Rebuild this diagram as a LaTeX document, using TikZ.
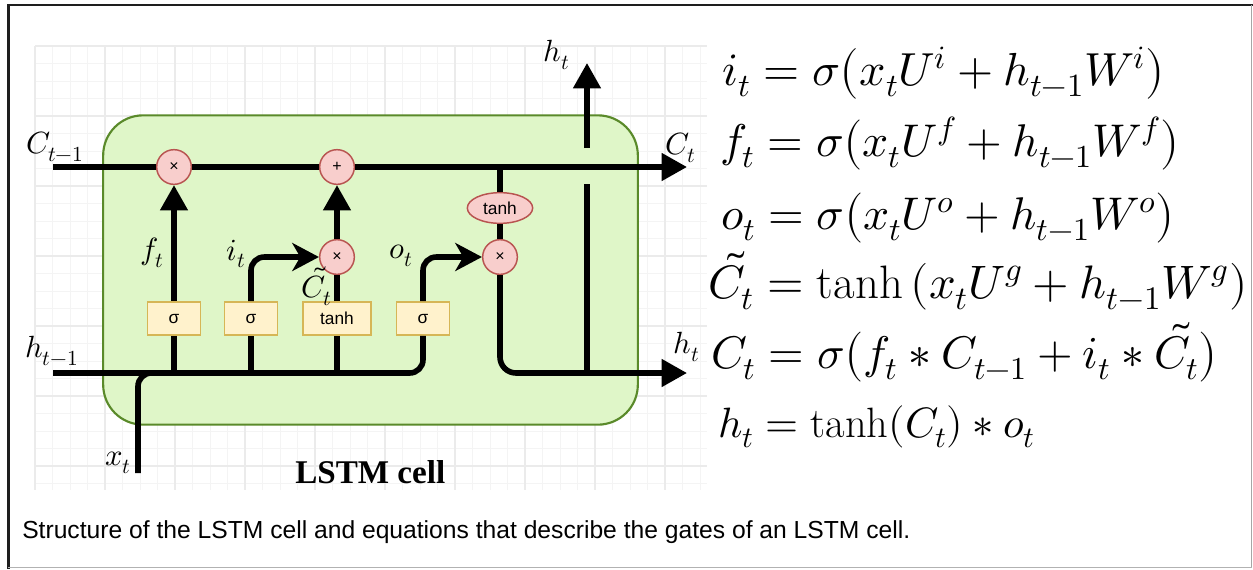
\documentclass[tikz,border=0pt]{standalone}
\usepackage{fontspec}
\usepackage{unicode-math}
\setmathfont{Latin Modern Math}
\newfontfamily\sansf{Liberation Sans}
\newfontfamily\serift{Liberation Serif}
\usetikzlibrary{arrows.meta,shapes.geometric}
\definecolor{cellfill}{HTML}{DFF6C8}
\definecolor{cellline}{HTML}{5A8A2A}
\definecolor{opfill}{HTML}{F8CECC}
\definecolor{opline}{HTML}{B85450}
\definecolor{gatefill}{HTML}{FFF2CC}
\definecolor{gateline}{HTML}{D6B656}
\definecolor{framedark}{HTML}{1E1E1E}
\definecolor{gridminor}{HTML}{F4F4F4}
\definecolor{gridmajor}{HTML}{EBEBEB}
\tikzset{
  wire/.style={line width=4.2pt, black},
  tri/.style={-{Triangle[width=20pt,length=19pt]}},
  stl/.style={-{Stealth[width=21pt,length=20pt,inset=6pt]}},
  opnode/.style={circle, draw=opline, fill=opfill, line width=1.1pt, minimum size=26pt, inner sep=0pt, font=\sansf\fontsize{12}{12}\selectfont},
  gatebox/.style={rectangle, draw=gateline, fill=gatefill, line width=1.1pt, minimum width=40pt, minimum height=25pt, inner sep=0pt, font=\sansf\fontsize{13}{14}\selectfont},
  lbl/.style={inner sep=0pt, font=\fontsize{23}{27}\selectfont},
  eqn/.style={inner sep=0pt, anchor=base west, font=\fontsize{34}{40}\selectfont},
  gridl/.style={draw=gridminor, line width=0.7pt},
  gridm/.style={draw=gridmajor, line width=0.8pt}
}
\begin{document}
\begin{tikzpicture}[x=0.75pt,y=-0.75pt]
\useasboundingbox (0,0) rectangle (1253,569);
\fill[white] (0,0) rectangle (1253,569);
% frame
\draw[framedark, line width=2pt] (7,5) -- (1253,5);
\draw[framedark, line width=2.2pt] (8.5,4) -- (8.5,569);
\draw[gray!70, line width=0.9pt] (1251.5,5) -- (1251.5,568);
\draw[gray!60, line width=0.9pt] (8,567.5) -- (1252,567.5);
% grid
\foreach \i in {0,...,38} \draw[gridl] ({35+17.5*\i},46) -- ({35+17.5*\i},490);
\foreach \j in {0,...,25} \draw[gridl] (35,{46+17.5*\j}) -- (707,{46+17.5*\j});
\foreach \i in {0,...,9} \draw[gridm] ({35+70*\i},46) -- ({35+70*\i},490);
\foreach \j in {0,...,6} \draw[gridm] (35,{46+70*\j}) -- (707,{46+70*\j});
% cell
\node[draw=cellline, fill=cellfill, line width=1.6pt, rounded corners=30pt, minimum width=401pt, minimum height=232pt, inner sep=0pt] (cell) at (370.5,270) {};
% operation nodes
\node[opnode] (gf) at (174,167) {×};
\node[opnode] (gp) at (337,167) {+};
\node[opnode] (gi) at (337,257) {×};
\node[opnode] (go) at (500,257) {×};
\node[ellipse, draw=opline, fill=opfill, line width=1.1pt, minimum width=49pt, minimum height=23pt, inner sep=0pt, font=\sansf\fontsize{13}{14}\selectfont] (th) at (500,208) {tanh};
\node[gatebox] (sf) at (174,318.5) {σ};
\node[gatebox] (si) at (251,318.5) {σ};
\node[gatebox, minimum width=51pt] (sc) at (337,318.5) {tanh};
\node[gatebox] (so) at (423,318.5) {σ};
% coordinates
\coordinate (cin) at (53,167);
\coordinate (cout) at (687,167);
\coordinate (ctap) at (500,167);
\coordinate (hin) at (53,373);
\coordinate (hturn) at (423,373);
\coordinate (hout) at (687,373);
\coordinate (xin) at (138,473);
\coordinate (xturn) at (138,373);
\coordinate (xjoin) at (175,373);
\coordinate (iturn) at (251,257);
\coordinate (oturn) at (423,257);
\coordinate (gturn) at (500,373);
\coordinate (hb) at (587,373);
\coordinate (hm1) at (587,184);
\coordinate (hm2) at (587,148);
\coordinate (htop) at (587,63);
% cell state line
\draw[wire] (cin) -- (gf);
\draw[wire] (gf) -- (gp);
\draw[wire, tri] (gp) -- (cout);
\draw[wire] (ctap) -- (th);
\draw[wire] (th) -- (go);
% hidden input line
\draw[wire, rounded corners=10pt] (hin) -- (hturn) -- (so);
\draw[wire, rounded corners=10pt] (xin) -- (xturn) -- (xjoin);
\draw[wire] (sf |- hin) -- (sf);
\draw[wire] (si |- hin) -- (si);
\draw[wire] (sc |- hin) -- (sc);
% gates
\draw[wire, tri] (sf) -- (gf);
\draw[wire, stl, rounded corners=10pt] (si) -- (iturn) -- (gi);
\draw[wire] (sc) -- (gi);
\draw[wire, tri] (gi) -- (gp);
\draw[wire, stl, rounded corners=10pt] (so) -- (oturn) -- (go);
% output
\draw[wire, tri, rounded corners=12pt] (go) -- (gturn) -- (hout);
\draw[wire] (hb) -- (hm1);
\draw[wire, tri] (hm2) -- (htop);
% labels
\node[lbl] (lc1) at (55,147) {$C_{t-1}$};
\node[lbl] (lh1) at (52,351) {$h_{t-1}$};
\node[lbl] (lx) at (118,463) {$x_t$};
\node[lbl] (lf) at (152,253) {$f_t$};
\node[lbl] (li) at (236,254) {$i_t$};
\node[lbl] (lct) at (317,286) {$\tilde{C}_t$};
\node[lbl] (lo) at (401,256) {$o_t$};
\node[lbl] (lht) at (557,55) {$h_t$};
\node[lbl] (lcr) at (681,148) {$C_t$};
\node[lbl] (lhr) at (687,347) {$h_t$};
\node[inner sep=0pt, anchor=base west] (title) at (295,483) {\resizebox{112.5pt}{!}{\serift\bfseries\fontsize{26}{28}\selectfont LSTM cell}};
% equations
\node[eqn] (e1) at (722,85) {\resizebox{332.25pt}{!}{$i_t=\sigma\big(x_tU^i+h_{t-1}W^i\big)$}};
\node[eqn] (e2) at (720,156) {\resizebox{345pt}{!}{$f_t=\sigma\big(x_tU^f+h_{t-1}W^f\big)$}};
\node[eqn] (e3) at (721,229) {\resizebox{340.5pt}{!}{$o_t=\sigma\big(x_tU^o+h_{t-1}W^o\big)$}};
\node[eqn] (e4) at (708,298) {\resizebox{404.25pt}{!}{$\tilde{C}_t=\tanh\left(x_tU^g+h_{t-1}W^g\right)$}};
\node[eqn] (e5) at (711,368) {\resizebox{380.25pt}{!}{$C_t=\sigma\big(f_t\ast C_{t-1}+i_t\ast\tilde{C}_t\big)$}};
\node[eqn] (e6) at (718,437) {\resizebox{237.75pt}{!}{$h_t=\tanh(C_t)\ast o_t$}};
% caption
\node[inner sep=0pt, anchor=base west] (cap) at (22,538) {\resizebox{666pt}{!}{\sansf\fontsize{16.5}{18}\selectfont Structure of the LSTM cell and equations that describe the gates of an LSTM cell.}};
\end{tikzpicture}
\end{document}
